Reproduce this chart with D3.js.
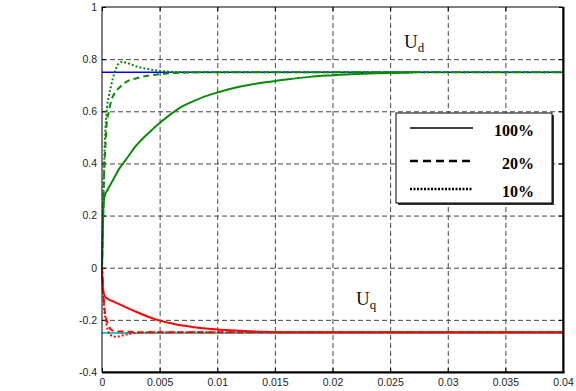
<!DOCTYPE html>
<html><head><meta charset="utf-8">
<script src="https://cdn.jsdelivr.net/npm/d3@7/dist/d3.min.js"></script>
<style>
body{margin:0;background:#fff;}
svg{display:block;}
.tick text{font-family:"Liberation Sans",Arial,sans-serif;font-size:10.5px;fill:#222;}
</style></head>
<body><svg id="c" width="576" height="391"></svg>
<script>
// ---------- data ----------
const xTicks = [0,0.005,0.01,0.015,0.02,0.025,0.03,0.035,0.04];
const xTickLabels = ["0","0.005","0.01","0.015","0.02","0.025","0.03","0.035","0.04"];
const yTicks = [-0.4,-0.2,0,0.2,0.4,0.6,0.8,1];
const yTickLabels = ["-0.4","-0.2","0","0.2","0.4","0.6","0.8","1"];

// reference values
const refD = 0.75, refQ = -0.25;

// Ud, 100% (solid)
const tD100 = [0,0.0001,0.0002,0.0005,0.001,0.0015,0.002,0.003,0.004,0.005,0.006,0.007,0.008,0.009,0.010,0.012,0.014,0.016,0.018,0.020,0.022,0.024,0.027];
const vD100 = [0,0.2,0.27,0.3,0.34,0.38,0.41,0.47,0.515,0.555,0.59,0.62,0.64,0.658,0.672,0.695,0.71,0.722,0.732,0.738,0.743,0.746,0.749];
// Ud, 20% (dashed)
const tD20 = [0,0.0001,0.0002,0.0003,0.0004,0.0006,0.0008,0.0011,0.0015,0.002,0.0033,0.005,0.007,0.01,0.04];
const vD20 = [0,0.2,0.38,0.47,0.55,0.6,0.64,0.67,0.69,0.71,0.73,0.742,0.748,0.75,0.75];
// Ud, 10% (dotted)
const tD10 = [0,0.0001,0.0002,0.0004,0.0006,0.0008,0.0011,0.0014,0.0017,0.0022,0.003,0.004,0.005,0.007,0.04];
const vD10 = [0,0.22,0.42,0.6,0.66,0.7,0.75,0.78,0.789,0.785,0.772,0.762,0.755,0.75,0.75];

// Uq, 100% (solid)
const tQ100 = [0,0.0001,0.0003,0.001,0.002,0.003,0.004,0.005,0.006,0.007,0.008,0.009,0.010,0.012,0.014,0.016,0.018,0.04];
const vQ100 = [0,-0.09,-0.113,-0.13,-0.15,-0.17,-0.188,-0.203,-0.213,-0.222,-0.228,-0.233,-0.237,-0.242,-0.246,-0.248,-0.248,-0.248];
// Uq, 20% (dashed)
const tQ20 = [0,0.0001,0.0002,0.0004,0.0006,0.0008,0.0012,0.002,0.003,0.005,0.04];
const vQ20 = [0,-0.08,-0.15,-0.2,-0.225,-0.238,-0.244,-0.245,-0.247,-0.248,-0.248];
// Uq, 10% (dotted)
const tQ10 = [0,0.0001,0.0002,0.0004,0.0006,0.0009,0.0012,0.0016,0.002,0.003,0.004,0.04];
const vQ10 = [0,-0.1,-0.16,-0.22,-0.25,-0.262,-0.265,-0.262,-0.257,-0.25,-0.248,-0.248];

const legendLabels = ["100%","20%","10%"];

// ---------- drawing ----------
const svg = d3.select("#c");
const L=102, R=563, T=7, B=372;
const x = d3.scaleLinear().domain([0,0.04]).range([L,R]);
const y = d3.scaleLinear().domain([-0.4,1]).range([B,T]);

// grid
const gx = svg.append("g").attr("transform",`translate(0,${B})`)
  .call(d3.axisBottom(x).tickValues(xTicks.slice(1,-1)).tickSize(-(B-T)).tickFormat(""));
gx.select(".domain").remove();
gx.selectAll("line").attr("stroke","#444").attr("stroke-dasharray","5,3").attr("stroke-width",1);
const gy = svg.append("g").attr("transform",`translate(${L},0)`)
  .call(d3.axisLeft(y).tickValues(yTicks.slice(1,-1)).tickSize(-(R-L)).tickFormat(""));
gy.select(".domain").remove();
gy.selectAll("line").attr("stroke","#444").attr("stroke-dasharray","5,3").attr("stroke-width",1);

// axes with labels
const ax = svg.append("g").attr("transform",`translate(0,${B})`)
  .call(d3.axisBottom(x).tickValues(xTicks).tickSizeInner(-4).tickSizeOuter(0).tickPadding(7)
    .tickFormat((d,i)=>xTickLabels[i]));
ax.select(".domain").remove();
ax.selectAll("line").attr("stroke","#000");
const ay = svg.append("g").attr("transform",`translate(${L},0)`)
  .call(d3.axisLeft(y).tickValues(yTicks).tickSizeInner(-4).tickSizeOuter(0).tickPadding(5)
    .tickFormat((d,i)=>yTickLabels[i]));
ay.select(".domain").remove();
ay.selectAll("line").attr("stroke","#000");
// right inward ticks
const ar = svg.append("g").attr("transform",`translate(${R},0)`)
  .call(d3.axisRight(y).tickValues(yTicks).tickSizeInner(-4).tickSizeOuter(0).tickFormat(""));
ar.select(".domain").remove();
ar.selectAll("line").attr("stroke","#000");
const at = svg.append("g").attr("transform",`translate(0,${T})`)
  .call(d3.axisTop(x).tickValues(xTicks).tickSizeInner(-4).tickSizeOuter(0).tickFormat(""));
at.select(".domain").remove();
at.selectAll("line").attr("stroke","#000");

const line = d3.line().x(d=>x(d[0])).y(d=>y(d[1]));
const zip = (t,v)=>t.map((tt,i)=>[tt,v[i]]);

// reference lines
svg.append("path").datum([[0,refD],[0.04,refD]]).attr("d",line)
  .attr("fill","none").attr("stroke","#0000ff").attr("stroke-width",1.6);
svg.append("path").datum([[0,refQ],[0.04,refQ]]).attr("d",line)
  .attr("fill","none").attr("stroke","#20c8c8").attr("stroke-width",2);

const series = [
  {t:tD100,v:vD100,c:"#0a8a0a",dash:null},
  {t:tD20,v:vD20,c:"#0a8a0a",dash:"6,4"},
  {t:tD10,v:vD10,c:"#0a8a0a",dash:"2,2"},
  {t:tQ100,v:vQ100,c:"#ff0000",dash:null},
  {t:tQ20,v:vQ20,c:"#ff0000",dash:"6,4"},
  {t:tQ10,v:vQ10,c:"#ff0000",dash:"2,2"}
];
series.forEach(s=>{
  svg.append("path").datum(zip(s.t,s.v)).attr("d",line.curve(d3.curveMonotoneX))
    .attr("fill","none").attr("stroke",s.c).attr("stroke-width",2)
    .attr("stroke-dasharray",s.dash);
});

// frame
svg.append("rect").attr("x",L).attr("y",T).attr("width",R-L).attr("height",B-T)
  .attr("fill","none").attr("stroke","#000").attr("stroke-width",1);
svg.append("line").attr("x1",R+0.5).attr("x2",R+0.5).attr("y1",T).attr("y2",B+1)
  .attr("stroke","#000").attr("stroke-width",2);
svg.append("line").attr("x1",L).attr("x2",R+1.5).attr("y1",B+0.5).attr("y2",B+0.5)
  .attr("stroke","#000").attr("stroke-width",2);

// labels Ud / Uq
function sublabel(px,py,main,sub){
  const t = svg.append("text").attr("x",px).attr("y",py)
    .attr("font-family","'Liberation Serif','Times New Roman',serif").attr("font-size",19).attr("fill","#111");
  t.append("tspan").text(main);
  t.append("tspan").attr("font-size",13).attr("dy",4).text(sub);
}
sublabel(404,48,"U","d");
sublabel(356,305,"U","q");

// legend
const lg = svg.append("g");
lg.append("rect").attr("x",398).attr("y",115).attr("width",156).attr("height",90).attr("fill","#333");
lg.append("rect").attr("x",396).attr("y",113).attr("width",156).attr("height",90)
  .attr("fill","#fff").attr("stroke","#000").attr("stroke-width",1);
const dashes=[null,"8,5","2,1.5"];
const ly=[128,161,189];
legendLabels.forEach((lab,i)=>{
  lg.append("line").attr("x1",410).attr("x2",473).attr("y1",ly[i]).attr("y2",ly[i])
    .attr("stroke","#000").attr("stroke-width",i===0?1.6:2.4).attr("stroke-dasharray",dashes[i]);
  lg.append("text").attr("x",534).attr("y",ly[i]+8).attr("text-anchor","end")
    .attr("font-family","'Liberation Serif','Times New Roman',serif").attr("font-weight","bold")
    .attr("font-size",16).attr("fill","#000").text(lab);
});
</script></body></html>
